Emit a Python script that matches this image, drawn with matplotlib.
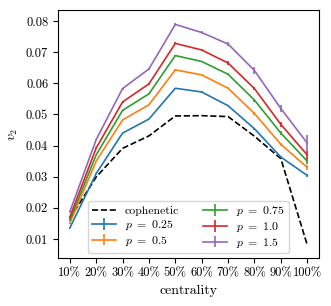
import numpy as np
import matplotlib
matplotlib.use("Agg")
import matplotlib.pyplot as plt

plt.rcParams["font.family"] = "serif"
plt.rcParams["font.serif"] = ["cmr10"]
plt.rcParams["mathtext.fontset"] = "cm"
plt.rcParams["axes.formatter.use_mathtext"] = True
plt.rcParams["font.size"] = 9

centrality = ["10%", "20%", "30%", "40%", "50%", "60%", "70%", "80%", "90%", "100%"]
cophenetic = [0.0165, 0.0299, 0.0391, 0.0431, 0.0495, 0.0496, 0.0493, 0.0430, 0.0358, 0.0081]

p_values = ["0.25", "0.5", "0.75", "1.0", "1.5"]
v2_p025 = [0.0135, 0.0310, 0.0440, 0.0485, 0.0584, 0.0572, 0.0528, 0.0454, 0.0363, 0.0304]
v2_p05 = [0.0150, 0.0350, 0.0482, 0.0531, 0.0643, 0.0627, 0.0584, 0.0503, 0.0404, 0.0330]
v2_p075 = [0.0160, 0.0370, 0.0513, 0.0566, 0.0689, 0.0670, 0.0629, 0.0546, 0.0440, 0.0350]
v2_p10 = [0.0170, 0.0392, 0.0540, 0.0598, 0.0728, 0.0707, 0.0665, 0.0583, 0.0468, 0.0370]
v2_p15 = [0.0187, 0.0419, 0.0583, 0.0646, 0.0789, 0.0763, 0.0726, 0.0641, 0.0519, 0.0408]
err_p025 = [0.0001, 0.0001, 0.0001, 0.0001, 0.0002, 0.0002, 0.0002, 0.0003, 0.0004, 0.0006]
err_p05 = [0.0001, 0.0001, 0.0001, 0.0002, 0.0002, 0.0002, 0.0003, 0.0004, 0.0005, 0.0008]
err_p075 = [0.0001, 0.0001, 0.0002, 0.0002, 0.0003, 0.0003, 0.0004, 0.0005, 0.0006, 0.0010]
err_p10 = [0.0001, 0.0002, 0.0002, 0.0003, 0.0003, 0.0004, 0.0005, 0.0006, 0.0008, 0.0013]
err_p15 = [0.0002, 0.0002, 0.0003, 0.0004, 0.0004, 0.0005, 0.0007, 0.0010, 0.0012, 0.0025]

series = [v2_p025, v2_p05, v2_p075, v2_p10, v2_p15]
errors = [err_p025, err_p05, err_p075, err_p10, err_p15]
colors = ["#1f77b4", "#ff7f0e", "#2ca02c", "#d62728", "#9467bd"]

x = np.arange(1, len(centrality) + 1)

fig, ax = plt.subplots(figsize=(3.31, 3.06), dpi=100)
fig.subplots_adjust(left=0.175, right=0.964, top=0.967, bottom=0.157)

ax.plot(x, cophenetic, "k--", lw=1.2, label="cophenetic")
for v, e, c, p in zip(series, errors, colors, p_values):
    ax.errorbar(x, v, yerr=e, color=c, lw=1.2, label=r"$p\ =\ %s$" % p)

ax.set_xticks(x)
ax.set_xticklabels(centrality)
ax.set_xlabel("centrality", fontsize=10)
ax.set_ylabel(r"$v_2$", fontsize=10)
ax.set_yticks([0.01, 0.02, 0.03, 0.04, 0.05, 0.06, 0.07, 0.08])
ax.set_yticklabels(["0.01", "0.02", "0.03", "0.04", "0.05", "0.06", "0.07", "0.08"])
ax.set_ylim(0.0039, 0.0835)
ax.legend(loc="lower center", ncol=2, fontsize=8.5, labelspacing=0.15,
          handlelength=2.0, borderpad=0.3, borderaxespad=0.4)

fig.savefig("out.png", dpi=100)
